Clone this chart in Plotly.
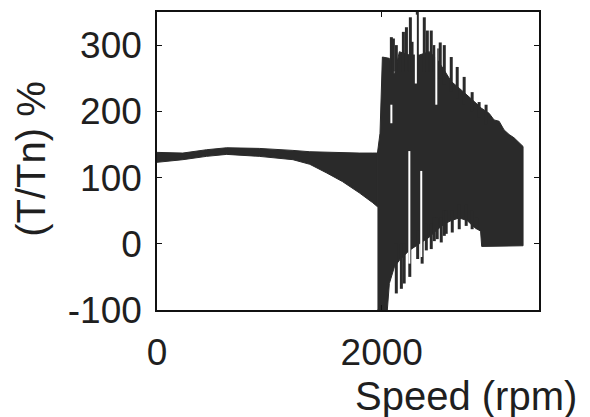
import plotly.graph_objects as go

# Torque ratio vs. speed (percent of nominal torque)

# Low-speed band: envelope of the oscillating torque before the transition
speed_low = [0, 230, 440, 620, 910, 1030, 1210, 1360, 1510, 1650, 1800, 1920, 1962]
upper_low = [138, 137, 142, 145, 144, 143, 141, 139, 138, 137, 137, 137, 137]
lower_low = [123, 127, 132, 135, 132, 130, 127, 120, 107, 94, 77, 62, 56]

# High-speed region: body of the dense oscillation (between spikes)
speed_hi_up = [1962, 1980, 1985, 2006, 2068, 2113, 2157, 2246, 2335, 2423, 2486,
               2557, 2619, 2690, 2761, 2823, 2885, 2956, 3000, 3045, 3089, 3134,
               3178, 3222, 3258]
upper_hi = [137, 167, 167, 282, 280, 255, 290, 285, 285, 290, 280,
            262, 245, 235, 225, 215, 205, 197, 187, 185, 172, 165,
            160, 152, 147]
speed_hi_lo = [1962, 2050, 2068, 2113, 2157, 2246, 2335, 2423, 2486, 2557, 2619,
               2690, 2761, 2823, 2880, 2890, 3222, 3258]
lower_hi = [-100, -100, -60, -35, -25, -10, 0, 10, 20, 30, 35,
            39, 35, 25, 19, -4, -3, -3]

# Upward peaks of the oscillation
peak_speed = [2086, 2104, 2130, 2193, 2220, 2255, 2270, 2317, 2379, 2406, 2441,
              2468, 2494, 2521, 2557, 2619, 2672, 2734, 2805, 2867, 2929]
peak_top = [312, 310, 300, 320, 327, 342, 305, 350, 342, 322, 322,
            300, 295, 304, 300, 282, 267, 252, 229, 214, 210]
peak_base = [260, 260, 260, 260, 260, 260, 260, 260, 260, 260, 260,
             260, 250, 250, 240, 230, 220, 210, 200, 190, 180]

# Downward troughs of the oscillation
trough_speed = [2130, 2175, 2200, 2250, 2320, 2360, 2397, 2441, 2468, 2494, 2530,
                2557, 2574, 2628, 2690, 2752, 2805, 2850]
trough_bottom = [-75, -68, -60, -50, -23, -30, -10, -8, 4, 7, 2,
                 12, 15, 17, 22, 27, 22, 22]
trough_top = [0, 0, 0, 10, 20, 20, 30, 30, 40, 40, 40,
              50, 50, 50, 60, 60, 50, 40]

# Light gaps between oscillation cycles
gap_speed = [2086, 2246, 2304, 2352, 2486]
gap_low = [182, -30, 242, -20, 210]
gap_high = [210, 140, 346, 110, 300]

# Axis ticks
x_tick_vals = [0, 2000]
x_tick_text = ["0", "2000"]
y_tick_vals = [-100, 0, 100, 200, 300]
y_tick_text = ["-100", "0", "100", "200", "300"]

INK = "#2a2a2a"
TEXT = "#1f1f1f"
FONT = "Liberation Sans, Arial, sans-serif"


def segments(xs, y0s, y1s):
    sx, sy = [], []
    for x, a, b in zip(xs, y0s, y1s):
        sx += [x, x, None]
        sy += [a, b, None]
    return sx, sy


fig = go.Figure()

# closed polygons for the two filled regions
fig.add_trace(go.Scatter(
    x=speed_low + speed_low[::-1], y=upper_low + lower_low[::-1],
    fill="toself", fillcolor=INK, mode="lines",
    line=dict(color=INK, width=1), hoverinfo="skip", showlegend=False))
fig.add_trace(go.Scatter(
    x=speed_hi_up + speed_hi_lo[::-1], y=upper_hi + lower_hi[::-1],
    fill="toself", fillcolor=INK, mode="lines",
    line=dict(color=INK, width=1), hoverinfo="skip", showlegend=False))

px, py = segments(peak_speed, peak_base, peak_top)
fig.add_trace(go.Scatter(x=px, y=py, mode="lines",
                         line=dict(color=INK, width=3),
                         hoverinfo="skip", showlegend=False))
tx, ty = segments(trough_speed, trough_top, trough_bottom)
fig.add_trace(go.Scatter(x=tx, y=ty, mode="lines",
                         line=dict(color=INK, width=3),
                         hoverinfo="skip", showlegend=False))
gx, gy = segments(gap_speed, gap_low, gap_high)
fig.add_trace(go.Scatter(x=gx, y=gy, mode="lines",
                         line=dict(color="white", width=2),
                         hoverinfo="skip", showlegend=False))

axis_common = dict(
    showline=True, linecolor="#111", linewidth=1.5, mirror="ticks",
    ticks="inside", ticklen=5, tickwidth=1, tickcolor="#111",
    showgrid=False, zeroline=False,
    tickfont=dict(family=FONT, size=37, color=TEXT),
)

fig.update_layout(
    width=590, height=417,
    margin=dict(l=157, r=51, t=10, b=107),
    paper_bgcolor="white", plot_bgcolor="white",
    xaxis=dict(range=[0, 3400], tickvals=x_tick_vals, ticktext=x_tick_text,
               ticklabelstandoff=9, **axis_common),
    yaxis=dict(range=[-100, 350], tickvals=y_tick_vals, ticktext=y_tick_text,
               ticklabelstandoff=6, **axis_common),
    annotations=[
        dict(text="Speed (rpm)", xref="paper", yref="paper",
             x=0.81, y=-0.29, xanchor="center", yanchor="middle",
             showarrow=False, font=dict(family=FONT, size=40, color=TEXT)),
        dict(text="(T/Tn) %", xref="paper", yref="paper",
             x=-0.33, y=0.507, xanchor="center", yanchor="middle",
             textangle=-90, showarrow=False,
             font=dict(family=FONT, size=40, color=TEXT)),
    ],
)

fig.write_html("out.html")
